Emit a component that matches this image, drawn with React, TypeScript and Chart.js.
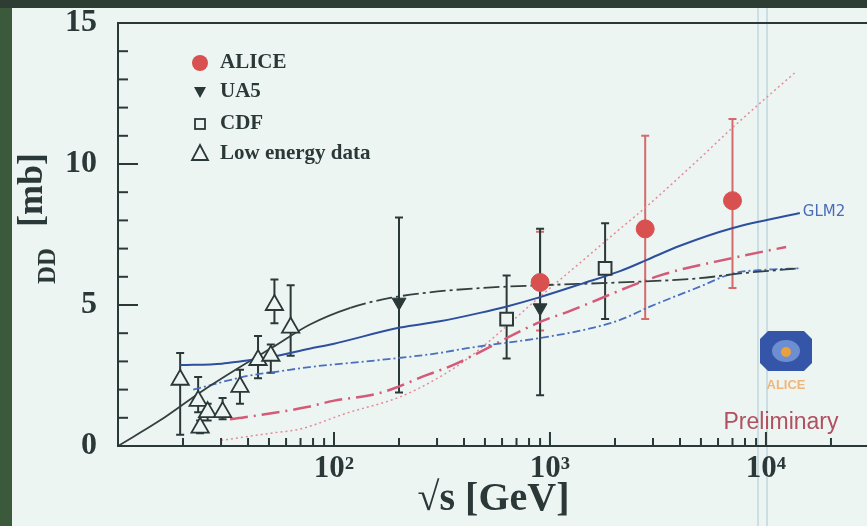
import React, { useEffect, useRef } from "react";
import { Chart, registerables } from "chart.js";

Chart.register(...registerables);

// ---------- data ----------
const aliceEnergy = [900, 2760, 7000];
const aliceDD = [5.8, 7.7, 8.7];
const aliceLow = [4.1, 4.5, 5.6];
const aliceHigh = [7.6, 11.0, 11.6];

const ua5Energy = [200, 900];
const ua5DD = [5.1, 4.9];
const ua5Low = [1.9, 1.8];
const ua5High = [8.1, 7.7];

const cdfEnergy = [630, 1800];
const cdfDD = [4.5, 6.3];
const cdfLow = [3.1, 4.5];
const cdfHigh = [6.05, 7.9];

const lowEnergy = [19.4, 23.5, 24, 26, 30.5, 36.7, 44.5, 51, 53, 63];
const lowDD = [2.35, 1.6, 0.65, 1.2, 1.2, 2.1, 3.05, 3.2, 5.0, 4.2];
const lowLow = [0.4, 1.2, 0.45, 0.9, 0.95, 1.5, 2.4, 2.6, 4.35, 3.2];
const lowHigh = [3.3, 2.45, 0.9, 1.5, 1.7, 2.7, 3.9, 3.6, 5.9, 5.7];

const darkCurveE = [10, 15.6, 24, 36.7, 52, 77, 119, 182, 278, 474, 900, 2110, 4940, 7580, 14350];
const darkCurveV = [0, 0.9, 1.9, 2.8, 3.5, 4.3, 4.9, 5.25, 5.45, 5.6, 5.7, 5.8, 5.95, 6.12, 6.3];

const glm2E = [19.4, 30.3, 36.7, 50.5, 77, 99, 202, 309, 474, 632, 900, 1400, 2110, 2810, 4000, 7030, 14350];
const glm2V = [2.87, 2.92, 3.0, 3.15, 3.45, 3.62, 4.2, 4.42, 4.72, 4.95, 5.28, 5.75, 6.2, 6.6, 7.1, 7.73, 8.26];

const dashDotE = [22.3, 40.8, 56, 77, 163, 309, 414, 900, 1500, 2110, 2920, 4940, 7030, 10000, 14350];
const dashDotV = [2.0, 2.5, 2.65, 2.8, 3.05, 3.3, 3.47, 3.83, 4.15, 4.47, 4.95, 5.65, 6.12, 6.25, 6.3];

const redDashE = [33, 39.5, 75, 99, 163, 270, 355, 900, 1200, 3240, 7030, 12400];
const redDashV = [0.95, 1.03, 1.38, 1.6, 1.88, 2.52, 2.87, 4.4, 4.75, 6.05, 6.67, 7.06];

const dotE = [30, 50.5, 69.5, 115, 202, 309, 426, 900, 1380, 2110, 2810, 4940, 7030, 13900];
const dotV = [0.2, 0.45, 0.6, 1.17, 1.74, 2.45, 3.16, 5.3, 6.5, 7.7, 8.5, 10.2, 11.3, 13.3];

const xTickValues = [100, 1000, 10000];
const xTickLabels = ["10\u00B2", "10\u00B3", "10\u2074"];

const legendLabels = ["ALICE", "UA5", "CDF", "Low energy data"];
const curveLabel = "GLM2";

// ---------- styles ----------
const INK = "#2b3838";
const BG = "#edf5f3";
const SERIF = "'Liberation Serif', 'Times New Roman', serif";
const SANS = "'Liberation Sans', Arial, sans-serif";

const pts = (xs: number[], ys: number[]) => xs.map((x, i) => ({ x, y: ys[i] }));

function drawMarker(ctx: any, kind: string, x: number, y: number) {
  ctx.save();
  ctx.lineWidth = 1.8;
  if (kind === "circle") {
    ctx.fillStyle = "#d8504f";
    ctx.beginPath();
    ctx.arc(x, y, 8, 0, Math.PI * 2);
    ctx.fill();
  } else if (kind === "down") {
    ctx.fillStyle = INK;
    ctx.beginPath();
    ctx.moveTo(x - 6, y - 5);
    ctx.lineTo(x + 6, y - 5);
    ctx.lineTo(x, y + 6);
    ctx.closePath();
    ctx.fill();
  } else if (kind === "square") {
    ctx.strokeStyle = INK;
    ctx.strokeRect(x - 5, y - 5, 10, 10);
  } else {
    ctx.strokeStyle = INK;
    ctx.beginPath();
    ctx.moveTo(x, y - 9);
    ctx.lineTo(x + 8, y + 6);
    ctx.lineTo(x - 8, y + 6);
    ctx.closePath();
    ctx.stroke();
  }
  ctx.restore();
}

const decorPlugin: any = {
  id: "decor",
  beforeDraw(chart: any) {
    const { ctx, width, height } = chart;
    ctx.save();
    ctx.fillStyle = BG;
    ctx.fillRect(0, 0, width, height);
    ctx.strokeStyle = "rgba(140,180,200,0.35)";
    ctx.lineWidth = 2;
    [746, 755].forEach((x) => {
      ctx.beginPath();
      ctx.moveTo(x, 0);
      ctx.lineTo(x, height);
      ctx.stroke();
    });
    ctx.restore();
  },
  beforeDatasetsDraw(chart: any) {
    const { ctx } = chart;
    const xs = chart.scales.x;
    const ys = chart.scales.y;
    chart.data.datasets.forEach((ds: any) => {
      if (!ds.errLo) return;
      ctx.save();
      ctx.strokeStyle = ds.errColor;
      ctx.lineWidth = 2;
      ds.data.forEach((p: any, i: number) => {
        const px = xs.getPixelForValue(p.x);
        const lo = ys.getPixelForValue(ds.errLo[i]);
        const hi = ys.getPixelForValue(ds.errHi[i]);
        ctx.beginPath();
        ctx.moveTo(px, lo);
        ctx.lineTo(px, hi);
        ctx.moveTo(px - 4, lo);
        ctx.lineTo(px + 4, lo);
        ctx.moveTo(px - 4, hi);
        ctx.lineTo(px + 4, hi);
        ctx.stroke();
      });
      ctx.restore();
    });
  },
  afterDraw(chart: any) {
    const { ctx } = chart;
    const { left, right, top, bottom } = chart.chartArea;
    const xs = chart.scales.x;
    const ys = chart.scales.y;
    ctx.save();
    ctx.strokeStyle = INK;
    ctx.lineWidth = 2;
    // top frame
    ctx.beginPath();
    ctx.moveTo(left, top);
    ctx.lineTo(right, top);
    ctx.stroke();
    // inward y ticks
    for (let v = ys.min; v <= ys.max; v += 1) {
      const y = ys.getPixelForValue(v);
      const len = v % 5 === 0 ? 20 : 10;
      ctx.beginPath();
      ctx.moveTo(left, y);
      ctx.lineTo(left + len, y);
      ctx.stroke();
    }
    // inward x ticks
    for (let d = 10; d <= xs.max; d *= 10) {
      for (let m = 1; m <= 9; m++) {
        const v = d * m;
        if (v < xs.min || v > xs.max) continue;
        const x = xs.getPixelForValue(v);
        const len = m === 1 ? 14 : 8;
        ctx.beginPath();
        ctx.moveTo(x, bottom);
        ctx.lineTo(x, bottom - len);
        ctx.stroke();
      }
    }
    // y axis title
    ctx.fillStyle = INK;
    ctx.textAlign = "center";
    ctx.textBaseline = "middle";
    ctx.save();
    ctx.translate(21, 182);
    ctx.rotate(-Math.PI / 2);
    ctx.font = `bold 36px ${SERIF}`;
    ctx.fillText("[mb]", 0, 0);
    ctx.restore();
    ctx.save();
    ctx.translate(37, 258);
    ctx.rotate(-Math.PI / 2);
    ctx.font = `bold 25px ${SERIF}`;
    ctx.fillText("DD", 0, 0);
    ctx.restore();
    // legend
    const kinds = ["circle", "down", "square", "tri"];
    const rowY = [55, 84, 116, 146];
    ctx.font = `bold 21px ${SERIF}`;
    ctx.textAlign = "left";
    legendLabels.forEach((t, i) => {
      drawMarker(ctx, kinds[i], left + 82, top + rowY[i] - 15);
      ctx.fillStyle = INK;
      ctx.fillText(t, left + 102, top + rowY[i] - 15);
    });
    // GLM2 label
    ctx.fillStyle = "#4a6cb8";
    ctx.font = `15px 'DejaVu Sans', sans-serif`;
    ctx.fillText(curveLabel, xs.getPixelForValue(14350) + 3, ys.getPixelForValue(8.3));
    // ALICE logo
    const cx = 774, cy = 343, hw = 26, hh = 20, c = 8;
    ctx.fillStyle = "#3556a8";
    ctx.beginPath();
    ctx.moveTo(cx - hw + c, cy - hh);
    ctx.lineTo(cx + hw - c, cy - hh);
    ctx.lineTo(cx + hw, cy - hh + c);
    ctx.lineTo(cx + hw, cy + hh - c);
    ctx.lineTo(cx + hw - c, cy + hh);
    ctx.lineTo(cx - hw + c, cy + hh);
    ctx.lineTo(cx - hw, cy + hh - c);
    ctx.lineTo(cx - hw, cy - hh + c);
    ctx.closePath();
    ctx.fill();
    ctx.fillStyle = "#6d8fd2";
    ctx.beginPath();
    ctx.ellipse(cx, cy, 14, 11, 0, 0, Math.PI * 2);
    ctx.fill();
    ctx.fillStyle = "#e9a23b";
    ctx.beginPath();
    ctx.arc(cx, cy + 1, 5, 0, Math.PI * 2);
    ctx.fill();
    ctx.fillStyle = "#f1b679";
    ctx.textAlign = "center";
    ctx.font = `bold 13px ${SANS}`;
    ctx.fillText("ALICE", cx, 377);
    ctx.fillStyle = "#b05060";
    ctx.font = `23px ${SANS}`;
    ctx.fillText("Preliminary", 769, 415);
    ctx.restore();
  },
};

const curve = (label: string, xs: number[], ys: number[], color: string, width: number, dash: number[], extra: any = {}) => ({
  label,
  data: pts(xs, ys),
  showLine: true,
  borderColor: color,
  borderWidth: width,
  borderDash: dash,
  pointRadius: 0,
  fill: false,
  cubicInterpolationMode: "monotone",
  ...extra,
});

export default function App() {
  const ref = useRef<HTMLCanvasElement>(null);

  useEffect(() => {
    const canvas = ref.current;
    if (!canvas) return;
    const chart = new Chart(canvas, {
      type: "scatter",
      data: {
        datasets: [
          {
            label: "ALICE",
            data: pts(aliceEnergy, aliceDD),
            pointStyle: "circle",
            pointRadius: 9,
            backgroundColor: "#d8504f",
            borderColor: "#d8504f",
            errLo: aliceLow,
            errHi: aliceHigh,
            errColor: "#d46a6a",
          } as any,
          {
            label: "UA5",
            data: pts(ua5Energy, ua5DD),
            pointStyle: "triangle",
            rotation: 180,
            pointRadius: 8,
            backgroundColor: INK,
            borderColor: INK,
            errLo: ua5Low,
            errHi: ua5High,
            errColor: INK,
          } as any,
          {
            label: "CDF",
            data: pts(cdfEnergy, cdfDD),
            pointStyle: "rect",
            pointRadius: 9,
            borderWidth: 2,
            backgroundColor: BG,
            borderColor: INK,
            errLo: cdfLow,
            errHi: cdfHigh,
            errColor: INK,
          } as any,
          {
            label: "Low energy data",
            data: pts(lowEnergy, lowDD),
            pointStyle: "triangle",
            pointRadius: 10,
            borderWidth: 1.8,
            backgroundColor: BG,
            borderColor: INK,
            errLo: lowLow,
            errHi: lowHigh,
            errColor: INK,
          } as any,
          curve("GLM2", glm2E, glm2V, "#2d4f9e", 2, []),
          curve("dark", darkCurveE, darkCurveV, "#34403f", 1.8, [], {
            segment: {
              borderDash: (c: any) => (c.p0.parsed.x < 110 ? [] : [16, 4, 3, 4]),
            },
          }),
          curve("dashdot", dashDotE, dashDotV, "#4a6fc0", 1.8, [8, 3, 2, 3]),
          curve("reddash", redDashE, redDashV, "#d45a78", 2.5, [18, 6, 2, 6]),
          curve("dotted", dotE, dotV, "#e58a9a", 1.5, [2, 3]),
        ] as any,
      },
      options: {
        responsive: false,
        animation: false,
        devicePixelRatio: 1,
        layout: { padding: { left: 0, right: 23, top: 15, bottom: 0 } },
        plugins: { legend: { display: false }, tooltip: { enabled: false } },
        scales: {
          x: {
            type: "logarithmic",
            position: "bottom",
            min: 10,
            max: 30000,
            grid: { display: false, drawTicks: false },
            border: { display: true, color: INK, width: 2 },
            afterBuildTicks: (s: any) => {
              s.ticks = xTickValues.map((v) => ({ value: v }));
            },
            afterFit: (s: any) => {
              s.height = 80;
              s.paddingLeft = 0;
              s.paddingRight = 0;
            },
            ticks: {
              autoSkip: false,
              maxRotation: 0,
              padding: 4,
              color: INK,
              font: { family: SERIF, size: 31, weight: "bold" },
              callback: (_v: any, i: number) => xTickLabels[i],
            },
            title: {
              display: true,
              text: "\u221As [GeV]",
              color: INK,
              font: { family: SERIF, size: 40, weight: "bold" },
              padding: { top: 0, bottom: 2 },
            },
          } as any,
          y: {
            min: 0,
            max: 15,
            grid: { display: false, drawTicks: false },
            border: { display: true, color: INK, width: 2 },
            afterFit: (s: any) => {
              s.width = 106;
              s.paddingTop = 0;
              s.paddingBottom = 0;
            },
            ticks: {
              stepSize: 5,
              padding: 21,
              color: INK,
              font: { family: SERIF, size: 32, weight: "bold" },
            },
          } as any,
        },
      },
      plugins: [decorPlugin],
    });
    return () => chart.destroy();
  }, []);

  return (
    <div
      style={{
        position: "fixed",
        left: 0,
        top: 0,
        width: 867,
        height: 526,
        background: "#3b5a3c",
        overflow: "hidden",
      }}
    >
      <div style={{ position: "absolute", left: 0, top: 0, width: 867, height: 8, background: "#2e3d33" }} />
      <div style={{ position: "absolute", left: 12, top: 8, width: 880, height: 518, background: BG }}>
        <canvas ref={ref} width={880} height={518} style={{ display: "block", width: 880, height: 518 }} />
      </div>
    </div>
  );
}
